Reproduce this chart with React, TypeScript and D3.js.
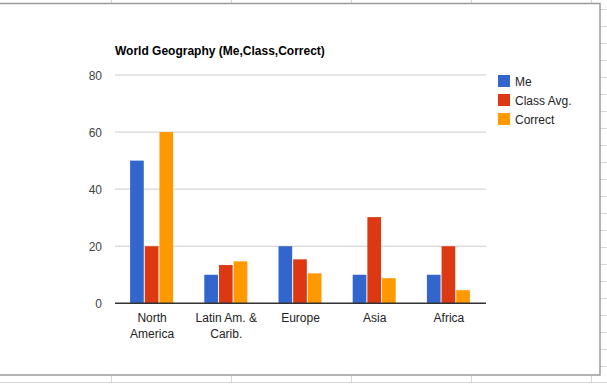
import React from "react";
import * as d3 from "d3";

const categories = ["North America", "Latin Am. & Carib.", "Europe", "Asia", "Africa"];
const categoryLines = [["North", "America"], ["Latin Am. &", "Carib."], ["Europe"], ["Asia"], ["Africa"]];
const seriesNames = ["Me", "Class Avg.", "Correct"];
const meValues = [50, 10, 20, 10, 10];
const classAvgValues = [20, 13.4, 15.4, 30.2, 20];
const correctValues = [60, 14.7, 10.5, 8.8, 4.6];
const yTicks = [0, 20, 40, 60, 80];
const colors = ["#3366cc", "#dc3912", "#ff9900"];

const W = 607;
const H = 384;
const FONT = "'Liberation Sans', Arial, sans-serif";

export default function App() {
  const seriesValues = [meValues, classAvgValues, correctValues];
  const plotLeft = 115;
  const plotRight = 486;
  const y = d3.scaleLinear().domain([0, 80]).range([303.3, 75]);
  const x0 = d3
    .scaleBand<string>()
    .domain(categories)
    .range([plotLeft, plotRight])
    .paddingInner(0.407)
    .paddingOuter(0.2035);
  const x1 = d3.scaleBand<string>().domain(seriesNames).range([0, x0.bandwidth()]);

  // spreadsheet background decoration
  const colLines = d3.range(111.5, W, 120);
  const rowLines = d3.range(9.5, 375, 17);

  return (
    <svg
      width={W}
      height={H}
      style={{ position: "absolute", left: 0, top: 0, display: "block" }}
      fontFamily={FONT}
    >
      <rect x={0} y={0} width={W} height={H} fill="#fff" />
      {/* spreadsheet grid outside chart */}
      {colLines.map((cx) => (
        <g key={"c" + cx}>
          <line x1={cx} x2={cx} y1={0} y2={3.5} stroke="#d4d4d4" />
          <line x1={cx} x2={cx} y1={375} y2={383} stroke="#d4d4d4" />
        </g>
      ))}
      <line x1={0} x2={W} y1={382.5} y2={382.5} stroke="#d4d4d4" />
      {rowLines.map((ry) => (
        <line key={"r" + ry} x1={600} x2={W} y1={ry} y2={ry} stroke="#d4d4d4" />
      ))}
      {/* chart box */}
      <rect x={-2} y={3.5} width={602} height={371.5} fill="#fff" stroke="#9a9a9a" strokeWidth={1.5} />

      {/* title */}
      <text x={115} y={55} fontSize={12} fontWeight="bold" fill="#000">
        World Geography (Me,Class,Correct)
      </text>

      {/* gridlines and y labels */}
      {yTicks.map((t) => (
        <g key={t}>
          {t !== 0 && (
            <line x1={plotLeft} x2={plotRight} y1={y(t)} y2={y(t)} stroke="#cccccc" strokeWidth={1} />
          )}
          <text x={102} y={y(t) + 4.5} fontSize={12} textAnchor="end" fill="#444">
            {t}
          </text>
        </g>
      ))}

      {/* bars */}
      {categories.map((c, ci) => (
        <g key={c} transform={`translate(${x0(c)},0)`}>
          {seriesNames.map((s, si) => {
            const v = seriesValues[si][ci];
            return (
              <rect
                key={s}
                x={x1(s)!}
                y={y(v)}
                width={x1.bandwidth() - 1}
                height={y(0) - y(v)}
                fill={colors[si]}
              />
            );
          })}
        </g>
      ))}

      {/* baseline */}
      <line x1={plotLeft} x2={plotRight} y1={y(0)} y2={y(0)} stroke="#333" strokeWidth={1.5} />

      {/* category labels */}
      {categories.map((c, ci) => {
        const cx = x0(c)! + x0.bandwidth() / 2;
        return (
          <text key={c} x={cx} y={322} fontSize={12} textAnchor="middle" fill="#222">
            {categoryLines[ci].map((ln, li) => (
              <tspan key={li} x={cx} dy={li === 0 ? 0 : 15.5}>
                {ln}
              </tspan>
            ))}
          </text>
        );
      })}

      {/* legend */}
      {seriesNames.map((s, si) => (
        <g key={s} transform={`translate(498,${75 + si * 19})`}>
          <rect x={0} y={0} width={12} height={12} fill={colors[si]} />
          <text x={17} y={11} fontSize={12} fill="#222">
            {s}
          </text>
        </g>
      ))}
    </svg>
  );
}
